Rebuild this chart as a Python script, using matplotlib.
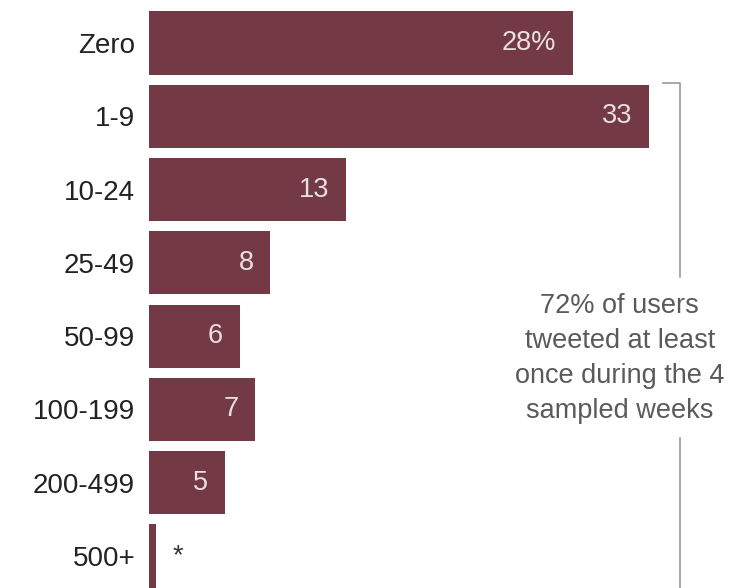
import numpy as np
import matplotlib.pyplot as plt

# tweets posted per user over the sampled weeks
categories = ['Zero', '1-9', '10-24', '25-49', '50-99', '100-199', '200-499', '500+']
shares = [28, 33, 13, 8, 6, 7, 5, 0.45]
value_labels = ['28%', '33', '13', '8', '6', '7', '5', '*']

bar_color = '#733a46'
plt.rcParams['font.family'] = ['Liberation Sans', 'DejaVu Sans']

fig = plt.figure(figsize=(7.44, 5.88), dpi=100)
ax = fig.add_axes([149 / 744, 0, 595 / 744, 1])

y = np.arange(len(categories))
ax.barh(y, shares, height=0.86, color=bar_color)
ax.set_xlim(0, 595 / 15.14)
ax.set_ylim(7 + 32 / 73.3, -43 / 73.3)

# labels on the left
ax.set_yticks(y)
ax.set_yticklabels(categories, fontsize=20, color='#222222')
ax.tick_params(axis='y', length=0, pad=10)
ax.set_xticks([])
for s in ax.spines.values():
    s.set_visible(False)

# values inside the bars
for i in range(len(categories)):
    if value_labels[i] == '*':
        ax.annotate('*', (shares[i], y[i]), xytext=(12, 0), textcoords='offset points',
                    ha='left', va='center', fontsize=19.5, color='#333333')
    else:
        ax.annotate(value_labels[i], (shares[i], y[i]), xytext=(-12, 0), textcoords='offset points',
                    ha='right', va='center', fontsize=19.5, color='#e8dfe0')

# bracket for users who tweeted at least once
line_kw = dict(color='#999999', lw=1.2, clip_on=False)
ax.plot([33.95, 35.07, 35.07], [0.546, 0.546, 3.19], **line_kw)
ax.plot([35.07, 35.07], [5.39, 7.6], **line_kw)
ax.text(31.1, 4.3, '72% of users\ntweeted at least\nonce during the 4\nsampled weeks',
        ha='center', va='center', fontsize=19.5, color='#5a5a5a', linespacing=1.45)

fig.savefig('out.png', dpi=100)
